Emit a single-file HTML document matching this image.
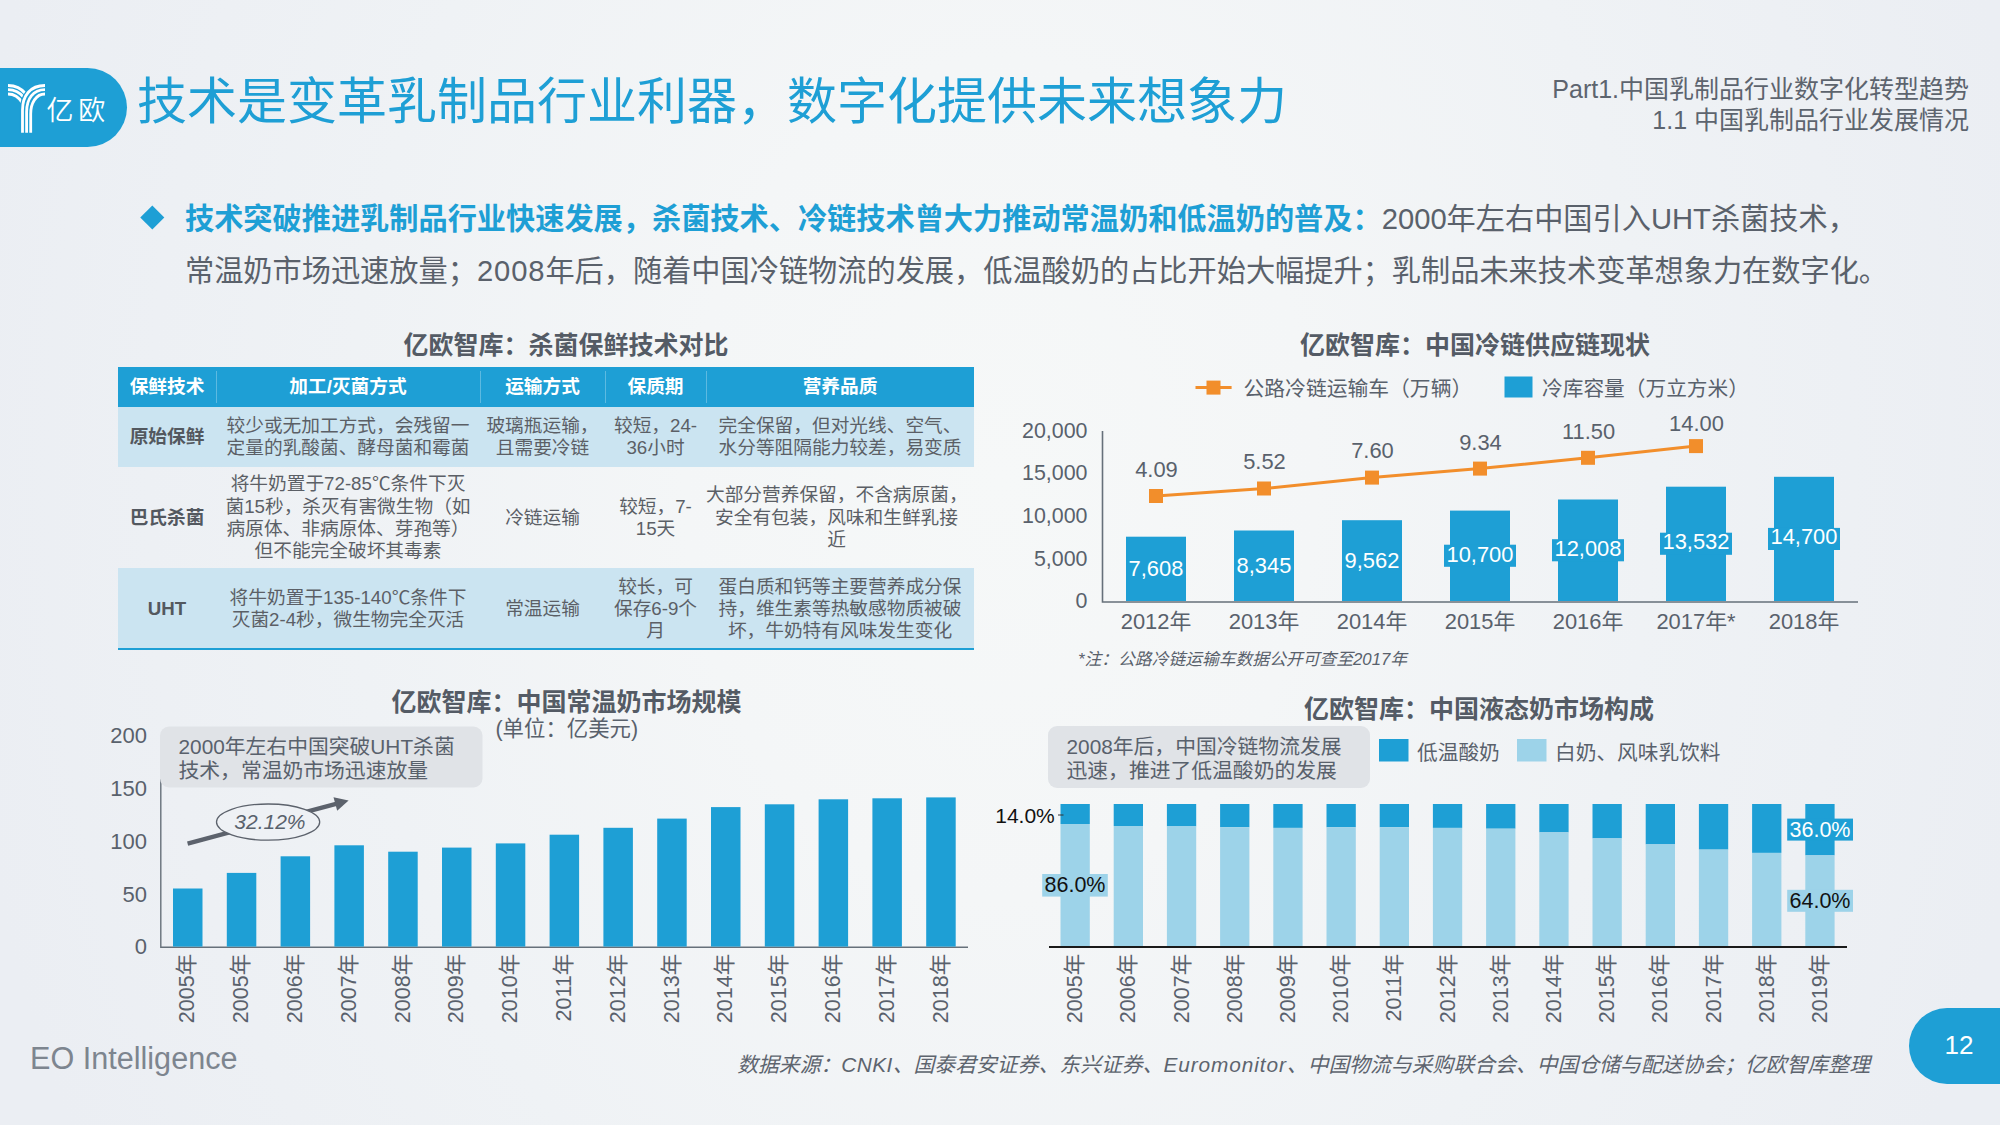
<!DOCTYPE html>
<html lang="zh-CN">
<head>
<meta charset="utf-8">
<title>技术是变革乳制品行业利器，数字化提供未来想象力</title>
<style>
html,body{margin:0;padding:0;}
body{width:2000px;height:1125px;overflow:hidden;position:relative;
  font-family:"Liberation Sans", "Noto Sans CJK SC", sans-serif;color:#59616c;
  background:#ebeef3;}
#bg{position:absolute;left:0;top:0;width:2000px;height:1125px;
  background:radial-gradient(ellipse 1050px 1400px at 1000px 480px, #f6f8f8 0%, #f4f6f7 30%, #eff2f5 62%, #ebeef3 100%);}
.abs{position:absolute;white-space:nowrap;}
#badge{left:0;top:68px;width:127px;height:79px;background:#1E9FD5;border-radius:0 40px 40px 0;}
#title{left:137px;top:64px;font-size:50px;line-height:76px;font-weight:400;color:#1E9FD5;letter-spacing:0;}
#crumb{right:31px;top:74px;font-size:25px;line-height:31px;text-align:right;color:#5d646e;}
#para{left:185px;top:193.4px;font-size:29.2px;line-height:52px;color:#5a616b;}
#para b{color:#1E9FD5;font-weight:700;}
#diamond{left:144.4px;top:209.2px;width:16.6px;height:16.6px;background:#1E9FD5;transform:rotate(45deg);}
.ct{font-size:25px;font-weight:700;color:#545b65;line-height:30px;transform:translateX(-50%);}
#unit{left:495.5px;top:714px;font-size:21.4px;line-height:30px;}
table{position:absolute;left:118px;top:367px;width:856px;border-collapse:separate;border-spacing:0;table-layout:fixed;
  font-size:18.7px;line-height:22.4px;text-align:center;color:#5b5f66;border-bottom:2px solid #1E9FD5;}
th{background:#1E9FD5;color:#fff;font-weight:700;height:40px;padding:0;}
th+th{background-image:linear-gradient(180deg,#1E9FD5 0,#1E9FD5 4px,rgba(255,255,255,0.28) 4px,rgba(255,255,255,0.28) 36px,#1E9FD5 36px);background-size:1px 100%;background-repeat:no-repeat;background-position:0 0;}
td{padding:0;white-space:nowrap;}
td:first-child{font-weight:700;color:#53585f;}
tr.a td{background:#cbe4f1;}
tr.r2 td{padding-top:1px;}
tr.r3 td{padding-top:2.5px;}
#eo{left:30px;top:1040.2px;font-size:30.6px;line-height:36px;color:#7d858f;}
#src{right:130px;top:1051.7px;font-size:20.83px;line-height:26px;font-style:italic;color:#5d646e;}
#pg{left:1909px;top:1008px;width:91px;height:76px;background:#1E9FD5;border-radius:38px 0 0 38px;}
#pgn{left:1909px;top:1007px;width:100px;height:76px;line-height:76px;text-align:center;color:#fff;font-size:26px;}
svg text{font-family:"Liberation Sans", "Noto Sans CJK SC", sans-serif;}
</style>
</head>
<body>
<div id="bg"></div>
<div id="badge" class="abs"></div>
<svg class="abs" style="left:0;top:68px" width="127" height="79" viewBox="0 68 127 79">
  <g fill="none" stroke="#fff" stroke-width="2.8">
    <path d="M8 85.5 C15 85.5 21.5 88.5 26 94"/>
    <path d="M8 89.7 C14 89.7 20 92.5 24.5 98"/>
    <path d="M8 94 C13 94 18.5 96.5 22.5 103"/>
  </g>
  <path d="M22.5 133 V110 C22.5 96 30 85.5 45 85.5" fill="none" stroke="#1E9FD5" stroke-width="5.4"/>
  <g fill="none" stroke="#fff" stroke-width="2.8">
    <path d="M22.5 132.7 V110 C22.5 96 30 85.5 45 85.5"/>
    <path d="M26.6 132.7 V112 C26.6 99 33 89.7 45 89.7"/>
    <path d="M30.7 132.7 V114 C30.7 103 36 94 45 94"/>
  </g>
  <text x="46.4" y="120" font-size="27" fill="#fff" font-weight="350" letter-spacing="4.8">亿欧</text>
</svg>
<div id="title" class="abs">技术是变革乳制品行业利器，数字化提供未来想象力</div>
<div id="crumb" class="abs">Part1.中国乳制品行业数字化转型趋势<br>1.1 中国乳制品行业发展情况</div>
<div id="diamond" class="abs"></div>
<div id="para" class="abs"><b>技术突破推进乳制品行业快速发展，杀菌技术、冷链技术曾大力推动常温奶和低温奶的普及：</b>2000年左右中国引入UHT杀菌技术，<br>常温奶市场迅速放量；<span style="letter-spacing:0.9px">2008</span>年后，随着中国冷链物流的发展，低温酸奶的占比开始大幅提升；乳制品未来技术变革想象力在数字化。</div>

<div class="abs ct" style="left:566px;top:330px">亿欧智库：杀菌保鲜技术对比</div>
<div class="abs ct" style="left:1475px;top:330px">亿欧智库：中国冷链供应链现状</div>
<div class="abs ct" style="left:566.5px;top:687px">亿欧智库：中国常温奶市场规模</div>
<div class="abs ct" style="left:1479px;top:694px">亿欧智库：中国液态奶市场构成</div>
<div id="unit" class="abs">(单位：亿美元)</div>

<table>
<colgroup><col style="width:98px"><col style="width:264px"><col style="width:125px"><col style="width:101px"><col style="width:268px"></colgroup>
<tr><th>保鲜技术</th><th>加工/灭菌方式</th><th>运输方式</th><th>保质期</th><th>营养品质</th></tr>
<tr class="a" style="height:60px"><td>原始保鲜</td><td>较少或无加工方式，会残留一<br>定量的乳酸菌、酵母菌和霉菌</td><td>玻璃瓶运输，<br>且需要冷链</td><td>较短，24-<br>36小时</td><td>完全保留，但对光线、空气、<br>水分等阻隔能力较差，易变质</td></tr>
<tr class="r2" style="height:101px"><td>巴氏杀菌</td><td>将牛奶置于72-85℃条件下灭<br>菌15秒，杀灭有害微生物（如<br>病原体、非病原体、芽孢等）<br>但不能完全破坏其毒素</td><td>冷链运输</td><td>较短，7-<br>15天</td><td style="padding-right:7px">大部分营养保留，不含病原菌，<br>安全有包装，风味和生鲜乳接<br>近</td></tr>
<tr class="a r3" style="height:80px"><td>UHT</td><td>将牛奶置于135-140℃条件下<br>灭菌2-4秒，微生物完全灭活</td><td>常温运输</td><td>较长，可<br>保存6-9个<br>月</td><td>蛋白质和钙等主要营养成分保<br>持，维生素等热敏感物质被破<br>坏，牛奶特有风味发生变化</td></tr>
</table>

<svg class="abs" style="left:0;top:0" width="2000" height="1125" viewBox="0 0 2000 1125">
<g id="chart1">
<path d="M1102.5 431 V602.0 H1858" fill="none" stroke="#66707a" stroke-width="1.6"/>
<text x="1087.5" y="437.8" font-size="21.4" fill="#59616c" text-anchor="end">20,000</text>
<text x="1087.5" y="480.4" font-size="21.4" fill="#59616c" text-anchor="end">15,000</text>
<text x="1087.5" y="523.0" font-size="21.4" fill="#59616c" text-anchor="end">10,000</text>
<text x="1087.5" y="565.6" font-size="21.4" fill="#59616c" text-anchor="end">5,000</text>
<text x="1087.5" y="608.3" font-size="21.4" fill="#59616c" text-anchor="end">0</text>
<rect x="1126" y="536.7" width="60" height="64.3" fill="#1E9FD5"/>
<text x="1156.0" y="576.4" font-size="21.9" fill="#fff" text-anchor="middle">7,608</text>
<text x="1156.0" y="628.9" font-size="21.9" fill="#59616c" text-anchor="middle">2012年</text>
<rect x="1234" y="530.5" width="60" height="70.5" fill="#1E9FD5"/>
<text x="1264.0" y="573.4" font-size="21.9" fill="#fff" text-anchor="middle">8,345</text>
<text x="1264.0" y="628.9" font-size="21.9" fill="#59616c" text-anchor="middle">2013年</text>
<rect x="1342" y="520.2" width="60" height="80.8" fill="#1E9FD5"/>
<text x="1372.0" y="568.4" font-size="21.9" fill="#fff" text-anchor="middle">9,562</text>
<text x="1372.0" y="628.9" font-size="21.9" fill="#59616c" text-anchor="middle">2014年</text>
<rect x="1450" y="510.6" width="60" height="90.4" fill="#1E9FD5"/>
<rect x="1444" y="544.7" width="72" height="22.1" fill="#1E9FD5"/>
<text x="1480.0" y="562.4" font-size="21.9" fill="#fff" text-anchor="middle">10,700</text>
<text x="1480.0" y="628.9" font-size="21.9" fill="#59616c" text-anchor="middle">2015年</text>
<rect x="1558" y="499.5" width="60" height="101.5" fill="#1E9FD5"/>
<rect x="1552" y="539.2" width="72" height="22.1" fill="#1E9FD5"/>
<text x="1588.0" y="556.0" font-size="21.9" fill="#fff" text-anchor="middle">12,008</text>
<text x="1588.0" y="628.9" font-size="21.9" fill="#59616c" text-anchor="middle">2016年</text>
<rect x="1666" y="486.7" width="60" height="114.3" fill="#1E9FD5"/>
<rect x="1660" y="532.7" width="72" height="22.1" fill="#1E9FD5"/>
<text x="1696.0" y="549.4" font-size="21.9" fill="#fff" text-anchor="middle">13,532</text>
<text x="1696.0" y="628.9" font-size="21.9" fill="#59616c" text-anchor="middle">2017年*</text>
<rect x="1774" y="476.8" width="60" height="124.2" fill="#1E9FD5"/>
<rect x="1768" y="527.9" width="72" height="22.1" fill="#1E9FD5"/>
<text x="1804.0" y="544.4" font-size="21.9" fill="#fff" text-anchor="middle">14,700</text>
<text x="1804.0" y="628.9" font-size="21.9" fill="#59616c" text-anchor="middle">2018年</text>
<polyline points="1156,496 1264,488.5 1372,477.6 1480,468.6 1588,457.8 1696,446.1" fill="none" stroke="#F28E2B" stroke-width="3"/>
<rect x="1149" y="489" width="14" height="14" fill="#F28E2B"/>
<text x="1156.5" y="476.9" font-size="21.9" fill="#59616c" text-anchor="middle">4.09</text>
<rect x="1257" y="481.5" width="14" height="14" fill="#F28E2B"/>
<text x="1264.5" y="468.8" font-size="21.9" fill="#59616c" text-anchor="middle">5.52</text>
<rect x="1365" y="470.6" width="14" height="14" fill="#F28E2B"/>
<text x="1372.5" y="458.3" font-size="21.9" fill="#59616c" text-anchor="middle">7.60</text>
<rect x="1473" y="461.6" width="14" height="14" fill="#F28E2B"/>
<text x="1480.5" y="449.9" font-size="21.9" fill="#59616c" text-anchor="middle">9.34</text>
<rect x="1581" y="450.8" width="14" height="14" fill="#F28E2B"/>
<text x="1588.5" y="438.5" font-size="21.9" fill="#59616c" text-anchor="middle">11.50</text>
<rect x="1689" y="439.1" width="14" height="14" fill="#F28E2B"/>
<text x="1696.5" y="431.3" font-size="21.9" fill="#59616c" text-anchor="middle">14.00</text>
<path d="M1195.5 387.6 H1231.6" stroke="#F28E2B" stroke-width="3"/>
<rect x="1206.5" y="380.6" width="14" height="14" fill="#F28E2B"/>
<text x="1243.5" y="396.1" font-size="20.8" fill="#59616c" text-anchor="start">公路冷链运输车（万辆）</text>
<rect x="1504.5" y="376.5" width="28" height="21" fill="#1E9FD5"/>
<text x="1542.0" y="396.0" font-size="20.7" fill="#59616c" text-anchor="start">冷库容量（万立方米）</text>
<text x="1078.0" y="664.7" font-size="16.8" fill="#59616c" text-anchor="start" font-style="italic">*注：公路冷链运输车数据公开可查至2017年</text>
</g>
<g id="chart2">
<path d="M160.8 736 V947.3 H968" fill="none" stroke="#66707a" stroke-width="1.4"/>
<text x="147.0" y="743.3" font-size="22" fill="#59616c" text-anchor="end">200</text>
<text x="147.0" y="796.2" font-size="22" fill="#59616c" text-anchor="end">150</text>
<text x="147.0" y="849.1" font-size="22" fill="#59616c" text-anchor="end">100</text>
<text x="147.0" y="901.5" font-size="22" fill="#59616c" text-anchor="end">50</text>
<text x="147.0" y="953.5" font-size="22" fill="#59616c" text-anchor="end">0</text>
<rect x="173.0" y="888.5" width="29.5" height="58.1" fill="#1E9FD5"/>
<text transform="translate(194.3,953.8) rotate(-90)" font-size="21.5" fill="#59616c" text-anchor="end">2005年</text>
<rect x="226.8" y="872.9" width="29.5" height="73.7" fill="#1E9FD5"/>
<text transform="translate(248.1,953.8) rotate(-90)" font-size="21.5" fill="#59616c" text-anchor="end">2005年</text>
<rect x="280.6" y="856.3" width="29.5" height="90.3" fill="#1E9FD5"/>
<text transform="translate(301.9,953.8) rotate(-90)" font-size="21.5" fill="#59616c" text-anchor="end">2006年</text>
<rect x="334.4" y="845.3" width="29.5" height="101.3" fill="#1E9FD5"/>
<text transform="translate(355.7,953.8) rotate(-90)" font-size="21.5" fill="#59616c" text-anchor="end">2007年</text>
<rect x="388.2" y="851.7" width="29.5" height="94.9" fill="#1E9FD5"/>
<text transform="translate(409.5,953.8) rotate(-90)" font-size="21.5" fill="#59616c" text-anchor="end">2008年</text>
<rect x="442.0" y="847.6" width="29.5" height="99.0" fill="#1E9FD5"/>
<text transform="translate(463.3,953.8) rotate(-90)" font-size="21.5" fill="#59616c" text-anchor="end">2009年</text>
<rect x="495.8" y="843.4" width="29.5" height="103.2" fill="#1E9FD5"/>
<text transform="translate(517.1,953.8) rotate(-90)" font-size="21.5" fill="#59616c" text-anchor="end">2010年</text>
<rect x="549.6" y="834.7" width="29.5" height="111.9" fill="#1E9FD5"/>
<text transform="translate(570.9,953.8) rotate(-90)" font-size="21.5" fill="#59616c" text-anchor="end">2011年</text>
<rect x="603.4" y="827.8" width="29.5" height="118.8" fill="#1E9FD5"/>
<text transform="translate(624.7,953.8) rotate(-90)" font-size="21.5" fill="#59616c" text-anchor="end">2012年</text>
<rect x="657.2" y="818.6" width="29.5" height="128.0" fill="#1E9FD5"/>
<text transform="translate(678.5,953.8) rotate(-90)" font-size="21.5" fill="#59616c" text-anchor="end">2013年</text>
<rect x="711.0" y="807.1" width="29.5" height="139.5" fill="#1E9FD5"/>
<text transform="translate(732.3,953.8) rotate(-90)" font-size="21.5" fill="#59616c" text-anchor="end">2014年</text>
<rect x="764.8" y="804.3" width="29.5" height="142.3" fill="#1E9FD5"/>
<text transform="translate(786.1,953.8) rotate(-90)" font-size="21.5" fill="#59616c" text-anchor="end">2015年</text>
<rect x="818.6" y="799.3" width="29.5" height="147.3" fill="#1E9FD5"/>
<text transform="translate(839.9,953.8) rotate(-90)" font-size="21.5" fill="#59616c" text-anchor="end">2016年</text>
<rect x="872.4" y="798.3" width="29.5" height="148.3" fill="#1E9FD5"/>
<text transform="translate(893.7,953.8) rotate(-90)" font-size="21.5" fill="#59616c" text-anchor="end">2017年</text>
<rect x="926.2" y="797.4" width="29.5" height="149.2" fill="#1E9FD5"/>
<text transform="translate(947.5,953.8) rotate(-90)" font-size="21.5" fill="#59616c" text-anchor="end">2018年</text>
<rect x="160" y="726.5" width="322.5" height="61" rx="9" fill="#e0e3e7"/>
<text x="178.5" y="753.6" font-size="20.8" fill="#59616c" text-anchor="start">2000年左右中国突破UHT杀菌</text>
<text x="178.5" y="778.1" font-size="20.8" fill="#59616c" text-anchor="start">技术，常温奶市场迅速放量</text>
<path d="M187.6 843.6 L337 803.6" stroke="#5c626c" stroke-width="4.4" fill="none"/>
<path d="M348.6 800.4 L333.5 797.2 L337.2 810.8 Z" fill="#5c626c"/>
<ellipse cx="268.1" cy="822.1" rx="51.6" ry="18.1" fill="#eef1f5" stroke="#5c626c" stroke-width="1.3"/>
<text x="269.9" y="829.1" font-size="21" fill="#59616c" text-anchor="middle" font-style="italic">32.12%</text>
</g>
<g id="chart3">
<rect x="1060.5" y="804.0" width="29.3" height="20.0" fill="#1E9FD5"/>
<rect x="1060.5" y="824.0" width="29.3" height="122.9" fill="#9DD3E9"/>
<text transform="translate(1082.2,953.8) rotate(-90)" font-size="21.5" fill="#59616c" text-anchor="end">2005年</text>
<rect x="1113.7" y="804.0" width="29.3" height="22.0" fill="#1E9FD5"/>
<rect x="1113.7" y="826.0" width="29.3" height="120.9" fill="#9DD3E9"/>
<text transform="translate(1135.4,953.8) rotate(-90)" font-size="21.5" fill="#59616c" text-anchor="end">2006年</text>
<rect x="1166.9" y="804.0" width="29.3" height="22.4" fill="#1E9FD5"/>
<rect x="1166.9" y="826.4" width="29.3" height="120.5" fill="#9DD3E9"/>
<text transform="translate(1188.6,953.8) rotate(-90)" font-size="21.5" fill="#59616c" text-anchor="end">2007年</text>
<rect x="1220.1" y="804.0" width="29.3" height="23.3" fill="#1E9FD5"/>
<rect x="1220.1" y="827.3" width="29.3" height="119.6" fill="#9DD3E9"/>
<text transform="translate(1241.8,953.8) rotate(-90)" font-size="21.5" fill="#59616c" text-anchor="end">2008年</text>
<rect x="1273.3" y="804.0" width="29.3" height="23.9" fill="#1E9FD5"/>
<rect x="1273.3" y="827.9" width="29.3" height="119.0" fill="#9DD3E9"/>
<text transform="translate(1295.0,953.8) rotate(-90)" font-size="21.5" fill="#59616c" text-anchor="end">2009年</text>
<rect x="1326.5" y="804.0" width="29.3" height="23.3" fill="#1E9FD5"/>
<rect x="1326.5" y="827.3" width="29.3" height="119.6" fill="#9DD3E9"/>
<text transform="translate(1348.2,953.8) rotate(-90)" font-size="21.5" fill="#59616c" text-anchor="end">2010年</text>
<rect x="1379.7" y="804.0" width="29.3" height="23.3" fill="#1E9FD5"/>
<rect x="1379.7" y="827.3" width="29.3" height="119.6" fill="#9DD3E9"/>
<text transform="translate(1401.4,953.8) rotate(-90)" font-size="21.5" fill="#59616c" text-anchor="end">2011年</text>
<rect x="1432.9" y="804.0" width="29.3" height="23.9" fill="#1E9FD5"/>
<rect x="1432.9" y="827.9" width="29.3" height="119.0" fill="#9DD3E9"/>
<text transform="translate(1454.6,953.8) rotate(-90)" font-size="21.5" fill="#59616c" text-anchor="end">2012年</text>
<rect x="1486.1" y="804.0" width="29.3" height="24.7" fill="#1E9FD5"/>
<rect x="1486.1" y="828.7" width="29.3" height="118.2" fill="#9DD3E9"/>
<text transform="translate(1507.8,953.8) rotate(-90)" font-size="21.5" fill="#59616c" text-anchor="end">2013年</text>
<rect x="1539.3" y="804.0" width="29.3" height="28.4" fill="#1E9FD5"/>
<rect x="1539.3" y="832.4" width="29.3" height="114.5" fill="#9DD3E9"/>
<text transform="translate(1561.0,953.8) rotate(-90)" font-size="21.5" fill="#59616c" text-anchor="end">2014年</text>
<rect x="1592.5" y="804.0" width="29.3" height="34.4" fill="#1E9FD5"/>
<rect x="1592.5" y="838.4" width="29.3" height="108.5" fill="#9DD3E9"/>
<text transform="translate(1614.2,953.8) rotate(-90)" font-size="21.5" fill="#59616c" text-anchor="end">2015年</text>
<rect x="1645.7" y="804.0" width="29.3" height="40.4" fill="#1E9FD5"/>
<rect x="1645.7" y="844.4" width="29.3" height="102.5" fill="#9DD3E9"/>
<text transform="translate(1667.4,953.8) rotate(-90)" font-size="21.5" fill="#59616c" text-anchor="end">2016年</text>
<rect x="1698.9" y="804.0" width="29.3" height="45.6" fill="#1E9FD5"/>
<rect x="1698.9" y="849.6" width="29.3" height="97.3" fill="#9DD3E9"/>
<text transform="translate(1720.6,953.8) rotate(-90)" font-size="21.5" fill="#59616c" text-anchor="end">2017年</text>
<rect x="1752.1" y="804.0" width="29.3" height="48.9" fill="#1E9FD5"/>
<rect x="1752.1" y="852.9" width="29.3" height="94.0" fill="#9DD3E9"/>
<text transform="translate(1773.8,953.8) rotate(-90)" font-size="21.5" fill="#59616c" text-anchor="end">2018年</text>
<rect x="1805.3" y="804.0" width="29.3" height="51.4" fill="#1E9FD5"/>
<rect x="1805.3" y="855.4" width="29.3" height="91.5" fill="#9DD3E9"/>
<text transform="translate(1827.0,953.8) rotate(-90)" font-size="21.5" fill="#59616c" text-anchor="end">2019年</text>
<path d="M1049 946.9 H1847" stroke="#1a1a1a" stroke-width="2"/>
<text x="1025.0" y="822.8" font-size="21" fill="#111" text-anchor="middle">14.0%</text>
<path d="M1058 815 H1063.5" stroke="#333" stroke-width="1"/>
<rect x="1042.2" y="874" width="65.6" height="22.6" fill="#9DD3E9"/>
<text x="1075.0" y="892.3" font-size="21.5" fill="#111" text-anchor="middle">86.0%</text>
<rect x="1787.2" y="818.6" width="65.8" height="22" fill="#1E9FD5"/>
<text x="1820.0" y="836.9" font-size="21.5" fill="#fff" text-anchor="middle">36.0%</text>
<rect x="1787.2" y="889.8" width="65.8" height="22" fill="#9DD3E9"/>
<text x="1820.0" y="908.1" font-size="21.5" fill="#111" text-anchor="middle">64.0%</text>
<rect x="1048" y="726" width="322" height="62" rx="9" fill="#e0e3e7"/>
<text x="1066.5" y="753.8" font-size="20.8" fill="#59616c" text-anchor="start">2008年后，中国冷链物流发展</text>
<text x="1066.5" y="777.7" font-size="20.8" fill="#59616c" text-anchor="start">迅速，推进了低温酸奶的发展</text>
<rect x="1379" y="739" width="29.5" height="22.5" fill="#1E9FD5"/>
<text x="1417.0" y="760.0" font-size="20.7" fill="#59616c" text-anchor="start">低温酸奶</text>
<rect x="1517" y="739" width="29.5" height="22.5" fill="#9DD3E9"/>
<text x="1555.0" y="760.0" font-size="20.7" fill="#59616c" text-anchor="start">白奶、风味乳饮料</text>
</g>
</svg>

<div id="eo" class="abs">EO Intelligence</div>
<div id="src" class="abs">数据来源：<span style="letter-spacing:0.4px">CNKI</span>、国泰君安证券、东兴证券、<span style="letter-spacing:0.9px">Euromonitor</span>、中国物流与采购联合会、中国仓储与配送协会；亿欧智库整理</div>
<div id="pg" class="abs"></div>
<div id="pgn" class="abs">12</div>
</body>
</html>
